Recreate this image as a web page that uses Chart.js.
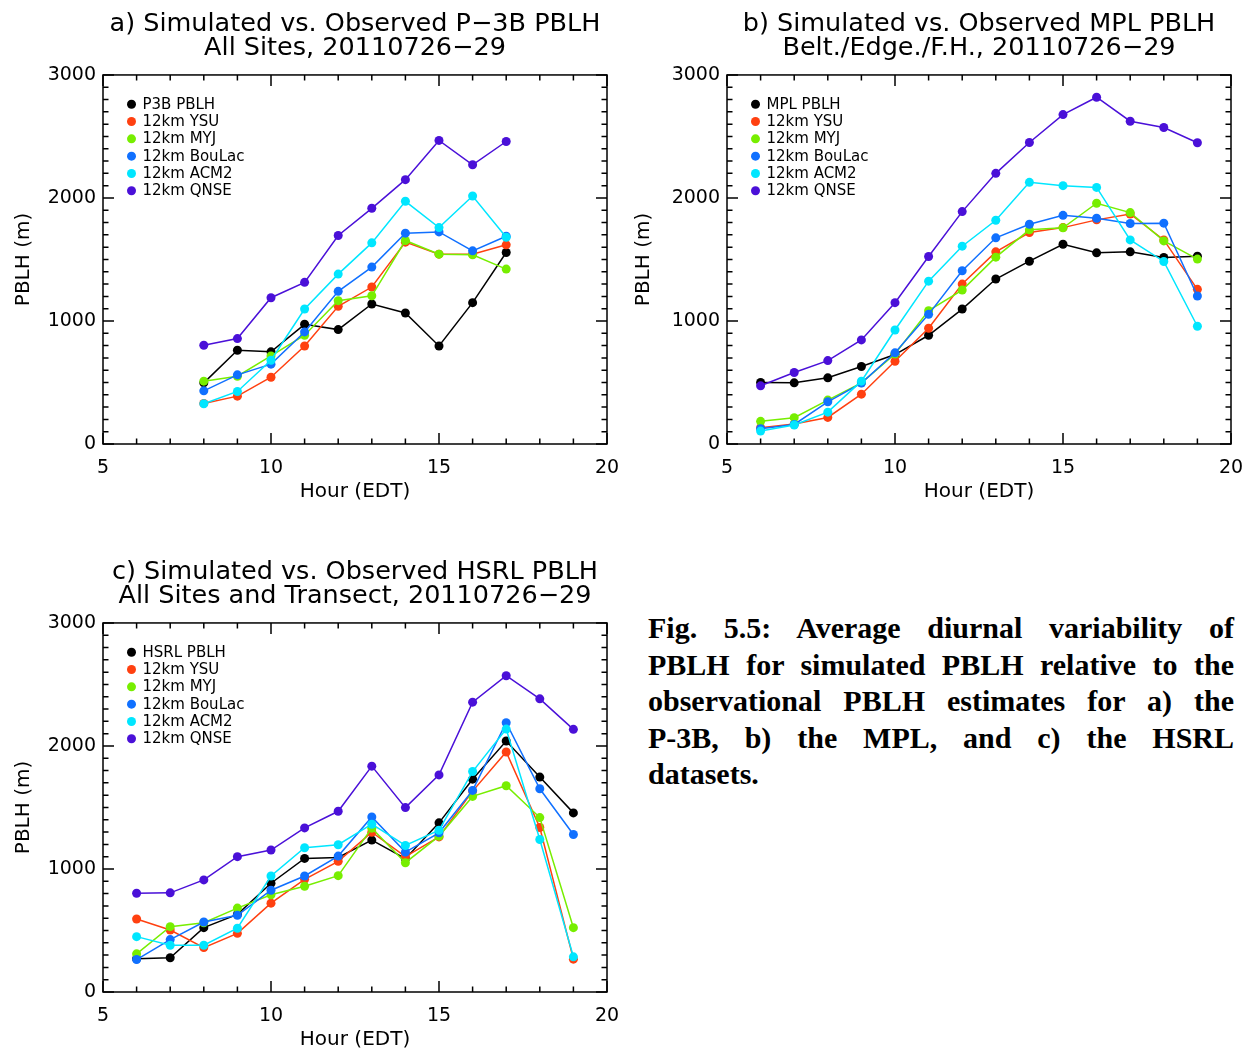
<!DOCTYPE html>
<html>
<head>
<meta charset="utf-8">
<script src="https://cdn.jsdelivr.net/npm/chart.js@4.4.1/dist/chart.umd.min.js"></script>
<style>
  body { margin: 0; background: #fff; width: 1253px; height: 1050px; position: relative; overflow: hidden; }
  canvas { position: absolute; }
  #caption { position: absolute; left: 648px; top: 610px; width: 586px; color: #000;
             font: bold 30px "Liberation Serif", "Times New Roman", serif; line-height: 36.6px; }
  #caption div { text-align: justify; text-align-last: justify; white-space: nowrap; }
  #caption div.last { text-align-last: left; }
</style>
</head>
<body>
<canvas id="chartA" width="625" height="520" style="left:0;top:0"></canvas>
<canvas id="chartB" width="633" height="520" style="left:620px;top:0"></canvas>
<canvas id="chartC" width="625" height="520" style="left:0;top:548px"></canvas>
<div id="caption">
  <div>Fig. 5.5: Average diurnal variability of</div>
  <div>PBLH for simulated PBLH relative to the</div>
  <div>observational PBLH estimates for a) the</div>
  <div>P-3B, b) the MPL, and c) the HSRL</div>
  <div class="last">datasets.</div>
</div>
<script>
// hours (EDT)
var hoursA = [8, 9, 10, 11, 12, 13, 14, 15, 16, 17];
var hoursBC = [6, 7, 8, 9, 10, 11, 12, 13, 14, 15, 16, 17, 18, 19];

// a) P-3B, all sites
var a_obs    = [497, 762, 749, 973, 930, 1138, 1065, 797, 1149, 1557];
var a_ysu    = [330, 389, 543, 797, 1119, 1276, 1641, 1543, 1543, 1619];
var a_myj    = [511, 551, 716, 884, 1165, 1205, 1654, 1543, 1538, 1422];
var a_boulac = [432, 562, 649, 911, 1241, 1438, 1714, 1724, 1570, 1689];
var a_acm2   = [327, 427, 681, 1097, 1381, 1635, 1973, 1759, 2016, 1681];
var a_qnse   = [803, 857, 1189, 1314, 1695, 1916, 2149, 2468, 2270, 2459];

// b) MPL, Belt./Edge./F.H.
var b_obs    = [500, 497, 538, 630, 727, 884, 1097, 1341, 1486, 1624, 1554, 1562, 1516, 1527];
var b_ysu    = [132, 162, 216, 405, 673, 941, 1300, 1562, 1719, 1759, 1822, 1870, 1659, 1257];
var b_myj    = [184, 214, 357, 497, 732, 1084, 1251, 1519, 1741, 1757, 1957, 1881, 1651, 1503];
var b_boulac = [124, 159, 343, 495, 741, 1054, 1408, 1676, 1786, 1859, 1835, 1792, 1795, 1203];
var b_acm2   = [105, 154, 259, 511, 927, 1324, 1608, 1819, 2127, 2100, 2086, 1659, 1484, 957];
var b_qnse   = [473, 581, 678, 846, 1149, 1524, 1889, 2200, 2451, 2678, 2819, 2624, 2573, 2449];

// c) HSRL, all sites and transect
var c_obs    = [270, 278, 523, 631, 884, 1086, 1094, 1235, 1084, 1375, 1730, 2040, 1747, 1456];
var c_ysu    = [593, 504, 361, 477, 722, 916, 1062, 1299, 1100, 1261, 1633, 1951, 1337, 267];
var c_myj    = [310, 531, 563, 682, 790, 860, 946, 1332, 1051, 1267, 1590, 1677, 1418, 523];
var c_boulac = [264, 426, 569, 623, 827, 943, 1105, 1423, 1137, 1294, 1639, 2189, 1652, 1280];
var c_acm2   = [450, 380, 380, 518, 943, 1173, 1197, 1364, 1191, 1315, 1792, 2137, 1240, 286];
var c_qnse   = [803, 806, 911, 1100, 1154, 1334, 1469, 1836, 1499, 1765, 2356, 2571, 2383, 2135];

var modelLabels = ["12km YSU", "12km MYJ", "12km BouLac", "12km ACM2", "12km QNSE"];
var colors = ["#000000", "#ff4010", "#77ee00", "#1070ff", "#00e6ff", "#4a10d8"];

var FONT = "'DejaVu Sans', sans-serif";

// IDL style box with inward ticks on all four sides
var idlFrame = {
    id: 'idlFrame',
    beforeDatasetsDraw: function (chart) {
        var ctx = chart.ctx, a = chart.chartArea;
        var x = chart.scales.x, y = chart.scales.y;
        ctx.save();
        ctx.strokeStyle = '#000';
        ctx.lineWidth = 1.5;
        ctx.strokeRect(a.left, a.top, a.right - a.left, a.bottom - a.top);
        ctx.beginPath();
        for (var v = x.min; v <= x.max; v += 1) {
            var px = x.getPixelForValue(v);
            var len = v % 5 === 0 ? 11 : 5.5;
            ctx.moveTo(px, a.bottom); ctx.lineTo(px, a.bottom - len);
            ctx.moveTo(px, a.top); ctx.lineTo(px, a.top + len);
        }
        for (var w = y.min; w <= y.max; w += 100) {
            var py = y.getPixelForValue(w);
            var l2 = w % 1000 === 0 ? 11 : 5.5;
            ctx.moveTo(a.left, py); ctx.lineTo(a.left + l2, py);
            ctx.moveTo(a.right, py); ctx.lineTo(a.right - l2, py);
        }
        ctx.stroke();
        ctx.restore();
    }
};

// legend inside the plot, upper left, like the IDL one
var boxLegend = {
    id: 'boxLegend',
    afterDatasetsDraw: function (chart) {
        var ctx = chart.ctx, a = chart.chartArea;
        ctx.save();
        ctx.font = '15px ' + FONT;
        ctx.textBaseline = 'middle';
        chart.data.datasets.forEach(function (ds, i) {
            var cx = a.left + 28.5, cy = a.top + 29.3 + i * 17.3;
            ctx.fillStyle = ds.borderColor;
            ctx.beginPath();
            ctx.arc(cx, cy, 4.5, 0, Math.PI * 2);
            ctx.fill();
            ctx.fillStyle = '#000';
            ctx.fillText(ds.label, cx + 11, cy + 0.5);
        });
        ctx.restore();
    }
};

function makePanel(id, title, obsLabel, hours, series, box) {
    var labels = [obsLabel].concat(modelLabels);
    var datasets = series.map(function (vals, i) {
        return {
            label: labels[i],
            data: vals.map(function (v, k) { return { x: hours[k], y: v }; }),
            borderColor: colors[i],
            backgroundColor: colors[i],
            borderWidth: 1.5,
            pointRadius: 4.5,
            pointBorderWidth: 0,
            pointHoverRadius: 4.5,
            tension: 0,
            order: series.length - i
        };
    });
    new Chart(document.getElementById(id), {
        type: 'line',
        data: { datasets: datasets },
        options: {
            responsive: false,
            animation: false,
            events: [],
            layout: { padding: { left: 0, top: 0, bottom: 0, right: box.padRight } },
            plugins: {
                title: {
                    display: true,
                    text: title,
                    fullSize: false,
                    color: '#000',
                    font: { family: FONT, size: 25.5, weight: 'normal', lineHeight: 0.95 },
                    padding: { top: 12, bottom: 14.5 }
                },
                legend: { display: false },
                tooltip: { enabled: false }
            },
            scales: {
                x: {
                    type: 'linear', min: 5, max: 20,
                    ticks: { stepSize: 5, color: '#000', font: { family: FONT, size: 19 }, padding: 13, maxRotation: 0,
                             callback: function (v) { return String(v); } },
                    grid: { display: false, drawTicks: false },
                    border: { display: false },
                    title: { display: true, text: 'Hour (EDT)', color: '#000',
                             font: { family: FONT, size: 20 }, padding: { top: 0, bottom: 16 } },
                    afterFit: function (s) { s.height = 76; s.paddingLeft = 0; s.paddingRight = 0; }
                },
                y: {
                    min: 0, max: 3000,
                    ticks: { stepSize: 1000, color: '#000', font: { family: FONT, size: 19 }, padding: 7,
                             callback: function (v) { return String(v); } },
                    grid: { display: false, drawTicks: false },
                    border: { display: false },
                    title: { display: true, text: 'PBLH (m)', color: '#000',
                             font: { family: FONT, size: 20 }, padding: { top: 12, bottom: 0 } },
                    afterFit: function (s) { s.width = box.left; }
                }
            }
        },
        plugins: [idlFrame, boxLegend]
    });
}

makePanel('chartA', ['a) Simulated vs. Observed P\u22123B PBLH', 'All Sites, 20110726\u221229'], 'P3B PBLH',
    hoursA, [a_obs, a_ysu, a_myj, a_boulac, a_acm2, a_qnse],
    { left: 103, padRight: 18 });

makePanel('chartB', ['b) Simulated vs. Observed MPL PBLH', 'Belt./Edge./F.H., 20110726\u221229'], 'MPL PBLH',
    hoursBC, [b_obs, b_ysu, b_myj, b_boulac, b_acm2, b_qnse],
    { left: 107, padRight: 22 });

makePanel('chartC', ['c) Simulated vs. Observed HSRL PBLH', 'All Sites and Transect, 20110726\u221229'], 'HSRL PBLH',
    hoursBC, [c_obs, c_ysu, c_myj, c_boulac, c_acm2, c_qnse],
    { left: 103, padRight: 18 });
</script>
</body>
</html>
